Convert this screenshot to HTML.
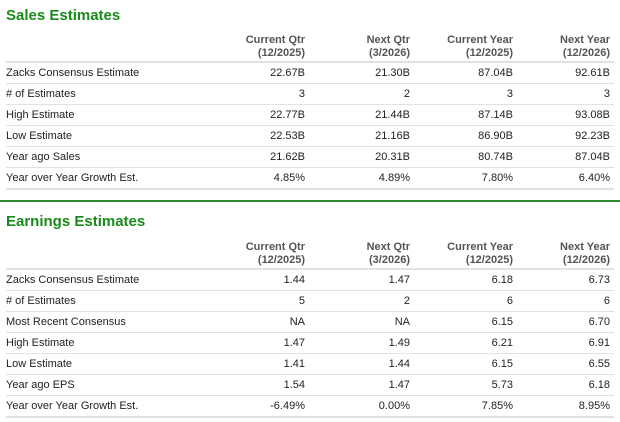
<!DOCTYPE html>
<html><head><style>
body{margin:0;width:620px;height:422px;background:#fff;font-family:"Liberation Sans",Arial,sans-serif;color:#222;position:relative;overflow:hidden}
.t{position:absolute;left:6px;font-size:15px;font-weight:bold;color:#1a8a1a}
.r{position:absolute;left:6px;width:608px;height:21px;font-size:11px;line-height:23px;border-bottom:1px solid #e2e2e2}
.r span{position:absolute;text-align:right;width:100px}
.r span.l{left:0;text-align:left;width:200px}
.c1{left:199px}.c2{left:304px}.c3{left:407px}.c4{left:504px}
.h{position:absolute;left:6px;width:608px;font-size:11px;line-height:13px;font-weight:bold;color:#555;border-bottom:2px solid #e2e2e2;height:28px}
.h span{position:absolute;text-align:right;width:100px;top:1px}
.g{position:absolute;left:0;top:200px;width:620px;height:2px;background:#2b8a2b}
</style></head><body>
<div class="t" style="top:7px">Sales Estimates</div>
<div class="h" style="top:33px"><span class="c1">Current Qtr<br>(12/2025)</span><span class="c2">Next Qtr<br>(3/2026)</span><span class="c3">Current Year<br>(12/2025)</span><span class="c4">Next Year<br>(12/2026)</span></div>
<div class="r" style="top:62px"><span class="l">Zacks Consensus Estimate</span><span class="c1">22.67B</span><span class="c2">21.30B</span><span class="c3">87.04B</span><span class="c4">92.61B</span></div>
<div class="r" style="top:83px"><span class="l"># of Estimates</span><span class="c1">3</span><span class="c2">2</span><span class="c3">3</span><span class="c4">3</span></div>
<div class="r" style="top:104px"><span class="l">High Estimate</span><span class="c1">22.77B</span><span class="c2">21.44B</span><span class="c3">87.14B</span><span class="c4">93.08B</span></div>
<div class="r" style="top:125px"><span class="l">Low Estimate</span><span class="c1">22.53B</span><span class="c2">21.16B</span><span class="c3">86.90B</span><span class="c4">92.23B</span></div>
<div class="r" style="top:146px"><span class="l">Year ago Sales</span><span class="c1">21.62B</span><span class="c2">20.31B</span><span class="c3">80.74B</span><span class="c4">87.04B</span></div>
<div class="r" style="top:167px;border-bottom:2px solid #e2e2e2"><span class="l">Year over Year Growth Est.</span><span class="c1">4.85%</span><span class="c2">4.89%</span><span class="c3">7.80%</span><span class="c4">6.40%</span></div>
<div class="g"></div>
<div class="t" style="top:213px">Earnings Estimates</div>
<div class="h" style="top:240px"><span class="c1">Current Qtr<br>(12/2025)</span><span class="c2">Next Qtr<br>(3/2026)</span><span class="c3">Current Year<br>(12/2025)</span><span class="c4">Next Year<br>(12/2026)</span></div>
<div class="r" style="top:269px"><span class="l">Zacks Consensus Estimate</span><span class="c1">1.44</span><span class="c2">1.47</span><span class="c3">6.18</span><span class="c4">6.73</span></div>
<div class="r" style="top:290px"><span class="l"># of Estimates</span><span class="c1">5</span><span class="c2">2</span><span class="c3">6</span><span class="c4">6</span></div>
<div class="r" style="top:311px"><span class="l">Most Recent Consensus</span><span class="c1">NA</span><span class="c2">NA</span><span class="c3">6.15</span><span class="c4">6.70</span></div>
<div class="r" style="top:332px"><span class="l">High Estimate</span><span class="c1">1.47</span><span class="c2">1.49</span><span class="c3">6.21</span><span class="c4">6.91</span></div>
<div class="r" style="top:353px"><span class="l">Low Estimate</span><span class="c1">1.41</span><span class="c2">1.44</span><span class="c3">6.15</span><span class="c4">6.55</span></div>
<div class="r" style="top:374px"><span class="l">Year ago EPS</span><span class="c1">1.54</span><span class="c2">1.47</span><span class="c3">5.73</span><span class="c4">6.18</span></div>
<div class="r" style="top:395px;border-bottom:2px solid #e2e2e2"><span class="l">Year over Year Growth Est.</span><span class="c1">-6.49%</span><span class="c2">0.00%</span><span class="c3">7.85%</span><span class="c4">8.95%</span></div>
</body></html>
